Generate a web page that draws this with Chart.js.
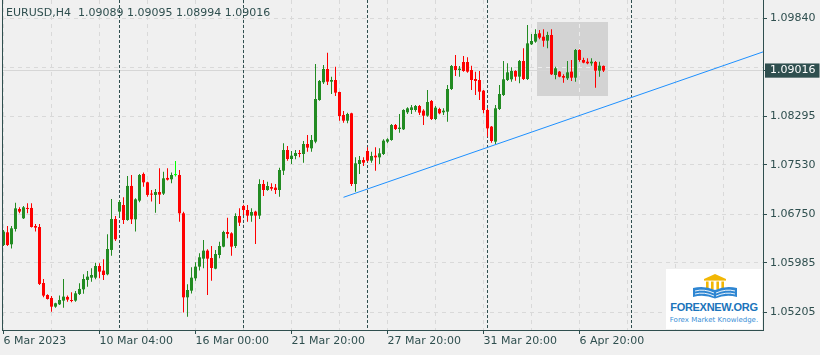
<!DOCTYPE html>
<html>
<head>
<meta charset="utf-8">
<script src="https://cdn.jsdelivr.net/npm/chart.js@4.4.1/dist/chart.umd.min.js"></script>
<style>
  html, body { margin: 0; padding: 0; background: #f0f0f0; }
  #wrap { position: relative; width: 820px; height: 355px; overflow: hidden; }
  canvas { display: block; }
  #header { position: absolute; left: 6px; top: 6px; font: 11px/13px 'DejaVu Sans', sans-serif; color: #2f4f4f; white-space: pre; }
  #logo { position: absolute; left: 666px; top: 269px; width: 96px; height: 60px; background: #ffffff; }
  #logo svg { position: absolute; left: 26px; top: 4px; }
  #logo .t1 { position: absolute; left: 0; top: 32px; width: 96px; text-align: center; font: bold 11px/12px 'Liberation Sans', Arial, sans-serif; letter-spacing: -0.3px; color: #1b74bb; }
  #logo .t2 { position: absolute; left: 0; top: 47px; width: 96px; text-align: center; font: 7px/8px 'DejaVu Sans', sans-serif; color: #3a8fd6; }
</style>
</head>
<body>
<div id="wrap">
  <canvas id="c" width="820" height="355"></canvas>
  <div id="header"></div>
  <div id="logo">
    <svg width="46" height="26" viewBox="0 0 46 26">
      <polygon points="12,6 23,1 34,6" fill="#f2b705"/>
      <rect x="12" y="6" width="22" height="1.6" fill="#f2b705"/>
      <rect x="14" y="8.5" width="2.6" height="8" fill="#f2b705"/>
      <rect x="19" y="8.5" width="2.6" height="8" fill="#f2b705"/>
      <rect x="24.4" y="8.5" width="2.6" height="8" fill="#f2b705"/>
      <rect x="29.4" y="8.5" width="2.6" height="8" fill="#f2b705"/>
      <path d="M1,15 Q12,12 23,17 Q34,12 45,15 L45,24 Q34,21 23,25.5 Q12,21 1,24 Z" fill="#2f86d2"/>
      <path d="M3,18 Q12,15.5 22,20 M3,21 Q12,18.5 22,23 M24,20 Q34,15.5 43,18 M24,23 Q34,18.5 43,21" stroke="#ffffff" stroke-width="0.9" fill="none"/>
    </svg>
    <div class="t1">FOREXNEW.ORG</div>
    <div class="t2">Forex Market Knowledge.</div>
  </div>
</div>
<script>
// ---------------- data ----------------
const symbol = 'EURUSD,H4';
const opens = [1.06266,1.06466,1.06277,1.06519,1.06834,1.06687,1.06850,1.06850,1.06566,1.06550,
  1.05667,1.05478,1.05431,1.05294,1.05331,1.05389,1.05447,1.05399,1.05389,1.05494,
  1.05567,1.05715,1.05751,1.05751,1.05935,1.05862,1.05804,1.06188,1.06676,1.06792,
  1.06897,1.06660,1.07197,1.06671,1.06965,1.07386,1.07254,1.07076,1.07055,1.07102,
  1.07076,1.07323,1.07302,1.07368,1.07370,1.06766,1.05441,1.05546,1.05741,1.05925,
  1.06051,1.06177,1.06061,1.05893,1.06108,1.06240,1.06471,1.06450,1.06250,1.06723,
  1.06881,1.06818,1.06729,1.06792,1.06729,1.07228,1.07133,1.07180,1.07170,1.07133,
  1.07438,1.07764,1.07622,1.07669,1.07711,1.07701,1.07858,1.07790,1.07895,1.08552,
  1.08831,1.09041,1.08841,1.08867,1.08678,1.08316,1.08226,1.08342,1.07228,1.07543,
  1.07606,1.07748,1.07596,1.07674,1.07648,1.07701,1.07895,1.07921,1.08158,1.08095,
  1.08090,1.08358,1.08394,1.08394,1.08457,1.08384,1.08305,1.08536,1.08252,1.08410,
  1.08358,1.08368,1.08725,1.09088,1.09025,1.09151,1.09151,1.09025,1.08883,1.08867,
  1.08699,1.08394,1.08132,1.07895,1.08410,1.08631,1.08867,1.08878,1.09009,1.08920,
  1.09167,1.08883,1.09430,1.09472,1.09603,1.09550,1.09487,1.09577,1.08946,1.08999,
  1.08930,1.08894,1.08999,1.08904,1.09340,1.09183,1.09156,1.09130,1.09151,1.09014,
  1.09089];
const highs = [1.06503,1.06566,1.06566,1.06934,1.06860,1.06881,1.06923,1.06923,1.06597,1.06597,
  1.05730,1.05489,1.05462,1.05357,1.05468,1.05730,1.05468,1.05520,1.05541,1.05662,
  1.05804,1.05856,1.05898,1.05988,1.05977,1.06040,1.06435,1.06992,1.06724,1.06976,
  1.07018,1.07354,1.07370,1.07002,1.07386,1.07407,1.07265,1.07133,1.07149,1.07475,
  1.07422,1.07475,1.07407,1.07591,1.07449,1.06792,1.05646,1.05914,1.05993,1.06135,
  1.06345,1.06198,1.06250,1.06187,1.06319,1.06492,1.06697,1.06466,1.06765,1.06844,
  1.06902,1.06897,1.06844,1.06807,1.07301,1.07291,1.07265,1.07238,1.07228,1.07485,
  1.07869,1.07827,1.07748,1.07764,1.07764,1.07906,1.08000,1.08000,1.09120,1.08867,
  1.09104,1.09298,1.08920,1.09078,1.08683,1.08379,1.08352,1.08352,1.07648,1.07669,
  1.07648,1.07806,1.07737,1.07806,1.07790,1.07932,1.07948,1.08174,1.08174,1.08331,
  1.08405,1.08436,1.08473,1.08473,1.08473,1.08405,1.08710,1.08552,1.08457,1.08431,
  1.08421,1.08788,1.09104,1.09261,1.09088,1.09246,1.09225,1.09093,1.08999,1.09009,
  1.08710,1.08421,1.08142,1.08473,1.08788,1.09167,1.09130,1.09067,1.09020,1.09183,
  1.09367,1.09734,1.09593,1.09666,1.09656,1.09666,1.09629,1.09666,1.09078,1.09009,
  1.08957,1.09167,1.09183,1.09356,1.09351,1.09219,1.09209,1.09209,1.09167,1.09156,
  1.09095];
const lows = [1.06251,1.06251,1.06209,1.06477,1.06766,1.06676,1.06766,1.06540,1.06477,1.05636,
  1.05441,1.05405,1.05215,1.05278,1.05320,1.05278,1.05373,1.05362,1.05373,1.05478,
  1.05499,1.05609,1.05688,1.05725,1.05741,1.05715,1.05788,1.06098,1.06329,1.06713,
  1.06597,1.06650,1.06597,1.06477,1.06939,1.07186,1.07028,1.06950,1.06776,1.06913,
  1.07055,1.07281,1.07239,1.07344,1.06634,1.05200,1.05136,1.05500,1.05704,1.05862,
  1.05898,1.05478,1.05704,1.05882,1.06056,1.06229,1.06371,1.06098,1.06219,1.06566,
  1.06739,1.06634,1.06634,1.06282,1.06676,1.07039,1.07123,1.07123,1.07070,1.07028,
  1.07370,1.07596,1.07543,1.07617,1.07648,1.07564,1.07737,1.07737,1.07869,1.08542,
  1.08804,1.08789,1.08647,1.08615,1.08226,1.08195,1.08184,1.07196,1.07107,1.07385,
  1.07512,1.07580,1.07564,1.07438,1.07543,1.07685,1.07869,1.07911,1.08079,1.08037,
  1.08079,1.08331,1.08331,1.08368,1.08315,1.08158,1.08289,1.08237,1.08237,1.08326,
  1.08315,1.08210,1.08710,1.08930,1.08920,1.08999,1.08983,1.08710,1.08631,1.08552,
  1.08342,1.07974,1.07879,1.07858,1.08394,1.08615,1.08852,1.08841,1.08857,1.08815,
  1.08867,1.08867,1.09419,1.09456,1.09508,1.09393,1.09367,1.08946,1.08878,1.08909,
  1.08825,1.08867,1.08852,1.08841,1.09156,1.09130,1.09114,1.09093,1.08746,1.08920,
  1.08994];
const closes = [1.06477,1.06266,1.06529,1.06844,1.06792,1.06860,1.06834,1.06550,1.06540,1.05652,
  1.05468,1.05415,1.05294,1.05347,1.05399,1.05452,1.05405,1.05383,1.05504,1.05573,
  1.05730,1.05767,1.05793,1.05935,1.05846,1.05793,1.06203,1.06676,1.06356,1.06944,
  1.06660,1.07197,1.06671,1.06986,1.07370,1.07254,1.07055,1.07060,1.07102,1.07060,
  1.07317,1.07296,1.07370,1.07368,1.06766,1.05441,1.05557,1.05751,1.05925,1.06072,
  1.06177,1.06051,1.05903,1.06124,1.06250,1.06471,1.06440,1.06240,1.06723,1.06618,
  1.06818,1.06729,1.06786,1.06729,1.07228,1.07133,1.07196,1.07154,1.07133,1.07448,
  1.07764,1.07622,1.07674,1.07716,1.07701,1.07858,1.07801,1.07921,1.08568,1.08852,
  1.09041,1.08841,1.08867,1.08668,1.08300,1.08226,1.08331,1.07228,1.07554,1.07606,
  1.07564,1.07596,1.07669,1.07648,1.07711,1.07911,1.07932,1.08158,1.08095,1.08116,
  1.08394,1.08421,1.08436,1.08457,1.08352,1.08305,1.08520,1.08252,1.08431,1.08342,
  1.08384,1.08725,1.09088,1.09025,1.09046,1.09009,1.08999,1.08867,1.08852,1.08683,
  1.08394,1.08105,1.07906,1.08421,1.08647,1.08878,1.08988,1.09009,1.08920,1.09167,
  1.08883,1.09445,1.09482,1.09593,1.09535,1.09487,1.09577,1.08957,1.09051,1.08920,
  1.08904,1.08988,1.08904,1.09340,1.09183,1.09141,1.09130,1.09156,1.09014,1.09093,
  1.09016];

// axis ticks / labels (bar index positions)
const xTickIndex  = [0, 24, 48, 72, 96, 120, 144];
const xTickLabels = ['6 Mar 2023', '10 Mar 04:00', '16 Mar 00:00', '21 Mar 20:00', '27 Mar 20:00', '31 Mar 20:00', '6 Apr 20:00'];
const xGridIndex  = [0, 12, 24, 36, 48, 60, 72, 84, 96, 108, 120, 132, 144, 156, 168, 180];
const separatorIndex = [29, 60, 91, 121, 157];
const yTickValues = [1.05205, 1.05985, 1.06750, 1.07530, 1.08295, 1.09065, 1.09840];

// drawn objects
const trendX = [85, 190];
const trendY = [1.07018, 1.09313];
const rectX = [133.3, 151.1];
const rectY = [1.08620, 1.09782];

// visible ranges
const xRange = [-0.375, 189.875];
const yRange = [1.049259, 1.101285];

// ---------------- styling ----------------
const BG = '#f0f0f0', AXIS = '#2f4f4f', GRID = '#d9d9d9';
const GREEN = '#228b22', RED = '#ff0000', DOJI = '#00ff00';
const PRICE_BOX = '#2f4f4f', RECT = '#d3d3d3', TREND = '#1e90ff';
const FONT = "'DejaVu Sans', sans-serif";

const n = closes.length;
const last = n - 1;
const lastPrice = closes[last];
const barIndex = opens.map((_, i) => i);
const candleColor = i => closes[i] > opens[i] ? GREEN : (closes[i] < opens[i] ? RED : DOJI);
const isPrice = v => v === lastPrice;
const isHiddenTick = v => !isPrice(v) && Math.abs(v - lastPrice) < 0.001;
const fmt = v => v.toFixed(5);

document.getElementById('header').textContent =
  symbol + '  ' + [opens[last], highs[last], lows[last], closes[last]].map(fmt).join(' ');

const yTicksAll = yTickValues.concat([lastPrice]).sort((a, b) => a - b);

const mt4Plugin = {
  id: 'mt4',
  beforeDraw(chart) {
    const ctx = chart.ctx;
    ctx.save();
    ctx.fillStyle = BG;
    ctx.fillRect(0, 0, chart.width, chart.height);
    ctx.restore();
  },
  beforeDatasetsDraw(chart) {
    const {ctx, chartArea: a, scales: {x, y}} = chart;
    ctx.save();
    const rx1 = Math.round(x.getPixelForValue(rectX[0]));
    const rx2 = Math.round(x.getPixelForValue(rectX[1]));
    const ry1 = Math.round(y.getPixelForValue(rectY[1]));
    const ry2 = Math.round(y.getPixelForValue(rectY[0]));
    ctx.fillStyle = RECT;
    ctx.fillRect(rx1, ry1, rx2 - rx1, ry2 - ry1);
    ctx.beginPath();
    ctx.rect(rx1, ry1, rx2 - rx1, ry2 - ry1);
    ctx.clip();
    ctx.strokeStyle = '#ececec';
    ctx.lineWidth = 1;
    ctx.setLineDash([4, 4]);
    yTickValues.forEach(v => {
      const p = Math.round(y.getPixelForValue(v) - 0.5) + 0.5;
      ctx.beginPath(); ctx.moveTo(a.left, p); ctx.lineTo(a.right, p); ctx.stroke();
    });
    xGridIndex.forEach(v => {
      const p = Math.round(x.getPixelForValue(v) - 0.5) + 0.5;
      ctx.beginPath(); ctx.moveTo(p, a.top); ctx.lineTo(p, a.bottom); ctx.stroke();
    });
    ctx.restore();

    ctx.save();
    const bp = Math.round(y.getPixelForValue(lastPrice) - 0.5);
    ctx.fillStyle = '#d6d6d6';
    ctx.fillRect(a.left, bp, a.right - a.left, 1);
    ctx.strokeStyle = AXIS;
    ctx.lineWidth = 1;
    ctx.setLineDash([3, 2]);
    separatorIndex.forEach(v => {
      const p = Math.round(x.getPixelForValue(v) - 0.5) + 0.5;
      ctx.beginPath(); ctx.moveTo(p, a.top); ctx.lineTo(p, a.bottom); ctx.stroke();
    });
    ctx.restore();
  },
  afterDatasetsDraw(chart) {
    const {ctx, chartArea: a} = chart;
    ctx.save();
    ctx.fillStyle = AXIS;
    ctx.fillRect(a.left, a.top, 1, a.bottom - a.top + 1);
    ctx.restore();
  }
};

const noPad = s => { s.paddingTop = 0; s.paddingBottom = 0; s.paddingLeft = 0; s.paddingRight = 0; };

Chart.defaults.font.family = FONT;
Chart.defaults.font.size = 11;
Chart.defaults.color = AXIS;

new Chart(document.getElementById('c'), {
  type: 'bar',
  data: {
    datasets: [
      {
        type: 'line',
        label: 'trend',
        data: trendX.map((v, i) => ({x: v, y: trendY[i]})),
        borderColor: TREND,
        borderWidth: 1,
        pointRadius: 0,
        tension: 0,
        order: 0
      },
      {
        label: 'body',
        data: barIndex.map(i => ({x: i, y: [Math.min(opens[i], closes[i]), Math.max(opens[i], closes[i])]})),
        backgroundColor: barIndex.map(candleColor),
        barThickness: 3,
        minBarLength: 1,
        grouped: false,
        inflateAmount: 0,
        borderWidth: 0,
        order: 1
      },
      {
        label: 'wick',
        data: barIndex.map(i => ({x: i, y: [lows[i], highs[i]]})),
        backgroundColor: barIndex.map(candleColor),
        barThickness: 1,
        grouped: false,
        inflateAmount: 0,
        borderWidth: 0,
        order: 2
      }
    ]
  },
  options: {
    responsive: false,
    animation: false,
    devicePixelRatio: 1,
    events: [],
    layout: { padding: { left: 2, top: 0, right: 0, bottom: 0 } },
    plugins: { legend: { display: false }, tooltip: { enabled: false }, title: { display: false } },
    scales: {
      x: {
        type: 'linear',
        min: xRange[0],
        max: xRange[1],
        offset: false,
        afterBuildTicks: s => { s.ticks = xGridIndex.map(v => ({value: v})); },
        afterFit: s => { s.height = 25; noPad(s); },
        grid: {
          offset: false,
          color: GRID,
          lineWidth: 1,
          tickLength: 4,
          tickColor: c => (c.tick && xTickIndex.includes(c.tick.value)) ? AXIS : 'rgba(0,0,0,0)'
        },
        border: { display: true, color: AXIS, width: 1, dash: [4, 4] },
        ticks: {
          autoSkip: false,
          maxRotation: 0,
          minRotation: 0,
          align: 'start',
          padding: 1,
          color: AXIS,
          callback: v => { const k = xTickIndex.indexOf(v); return k >= 0 ? xTickLabels[k] : ''; }
        }
      },
      y: {
        type: 'linear',
        position: 'right',
        min: yRange[0],
        max: yRange[1],
        afterBuildTicks: s => { s.ticks = yTicksAll.map(v => ({value: v})); },
        afterFit: s => { s.width = 57; noPad(s); },
        grid: {
          color: c => (c.tick && isPrice(c.tick.value)) ? 'rgba(0,0,0,0)' : GRID,
          lineWidth: 1,
          tickLength: 4,
          tickColor: c => (c.tick && isHiddenTick(c.tick.value)) ? 'rgba(0,0,0,0)' : AXIS
        },
        border: { display: true, color: AXIS, width: 1, dash: [4, 4] },
        ticks: {
          autoSkip: false,
          padding: 3,
          color: c => (c.tick && isPrice(c.tick.value)) ? '#ffffff' : AXIS,
          showLabelBackdrop: c => !!(c.tick && isPrice(c.tick.value)),
          backdropColor: PRICE_BOX,
          backdropPadding: { left: 5, right: 4, top: 0.5, bottom: 0.5 },
          callback: v => isHiddenTick(v) ? '' : fmt(v)
        }
      }
    }
  },
  plugins: [mt4Plugin]
});
</script>
</body>
</html>
